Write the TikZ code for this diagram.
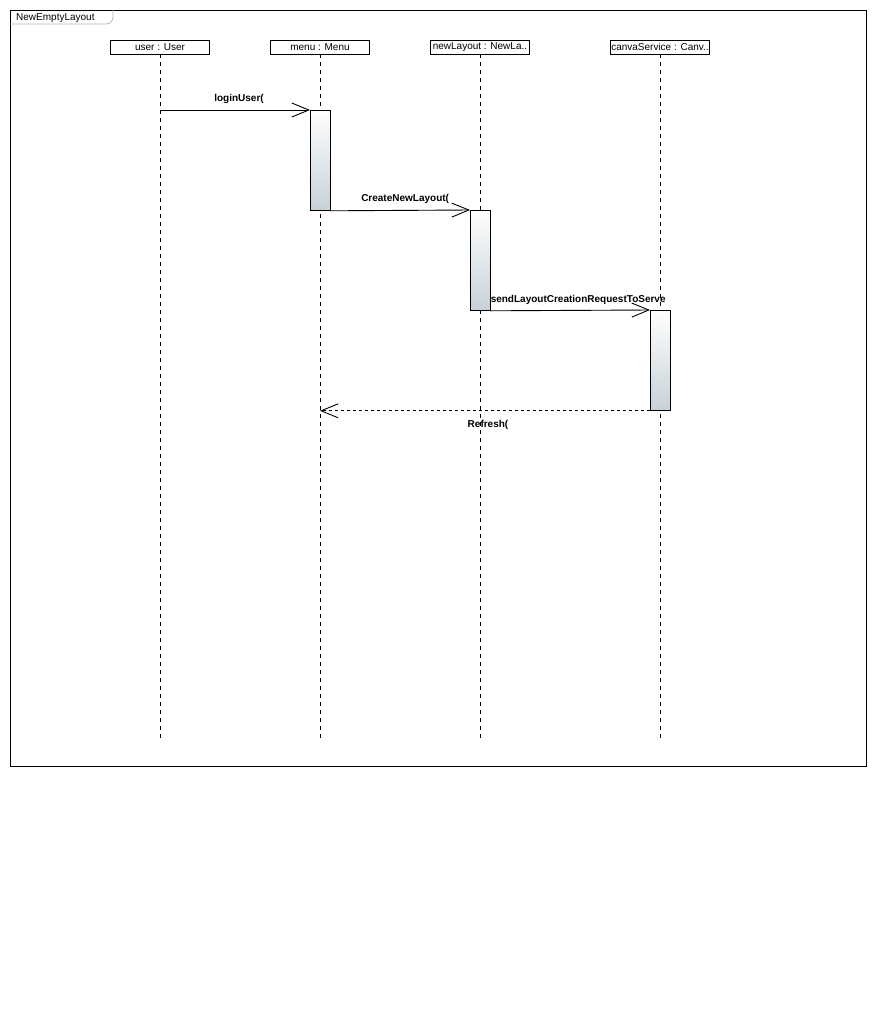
\documentclass[tikz,border=0pt]{standalone}
\usepackage{fontspec}
\setmainfont{Liberation Sans}
\usetikzlibrary{arrows.meta,positioning,calc}
\definecolor{ink}{HTML}{000000}
\definecolor{barbot}{HTML}{C6D1D7}
\definecolor{tabline}{HTML}{B4B4B4}

\begin{document}
\begin{tikzpicture}[x=1pt,y=-1pt,
  head/.style={draw=ink,line width=0.9pt,minimum width=99pt,minimum height=14pt,inner sep=0pt,font=\fontsize{10}{11}\selectfont},
  life/.style={ink,line width=0.8pt,dash pattern=on 4pt off 4pt},
  actbar/.style={draw=ink,line width=0.8pt,minimum width=19.5pt,minimum height=100pt,inner sep=0pt,top color=white,bottom color=barbot,anchor=north west},
  msg/.style={ink,line width=0.9pt,-{Straight Barb[length=17pt,width=14pt,line width=0.9pt]}},
  lbl/.style={font=\bfseries\fontsize{10}{11}\selectfont,inner sep=1pt}]
  \useasboundingbox (0,0) rectangle (877,1020);
  % frame
  \node[draw=ink,line width=0.8pt,minimum width=856pt,minimum height=756pt,inner sep=0pt,anchor=north west] (frame) at (10,10) {};
  \draw[tabline,line width=0.7pt,rounded corners=7pt] (frame.north west |- 0,24) -- (113,24) -- (113,10);
  \node[anchor=west,font=\fontsize{10}{11}\selectfont,inner sep=0pt] (title) at (16,18) {NewEmptyLayout};
  % lifelines
  \node[head] (user) at (160,47) {user : User};
  \node[head] (menu) at (320,47) {menu : Menu};
  \node[head] (newlayout) at (480,47) {newLayout : NewLa..};
  \node[head] (canva) at (660,47) {canvaService : Canv..};
  \coordinate (userEnd) at (160,740);
  \coordinate (menuEnd) at (320,740);
  \coordinate (newEnd) at (480,740);
  \coordinate (canvaEnd) at (660,740);
  \draw[life] (user.south) -- (userEnd);
  \draw[life] (menu.south) -- (menuEnd);
  \draw[life] (newlayout.south) -- (newEnd);
  \draw[life] (canva.south) -- (canvaEnd);
  % activations
  \node[actbar] (actMenu) at (310,110) {};
  \node[actbar] (actNew) at (470,210) {};
  \node[actbar] (actCanva) at (650,310) {};
  % messages
  \draw[msg] (user |- actMenu.north west) -- node[lbl,above=5pt,xshift=4pt] {loginUser(} (actMenu.north west);
  \draw[msg] (actMenu.south east) -- node[lbl,above=5pt,xshift=5pt] {CreateNewLayout(} (actNew.north west);
  \draw[msg] (actNew.south east) -- (actCanva.north west)
    node[lbl,pos=0,anchor=south west,yshift=5pt,xshift=-1pt] {sendLayoutCreationRequestToServe};
  \draw[msg,dashed] (actCanva.south west) -- node[lbl,below=8pt,xshift=3pt] {Refresh(} (menu |- actCanva.south west);
\end{tikzpicture}
\end{document}
